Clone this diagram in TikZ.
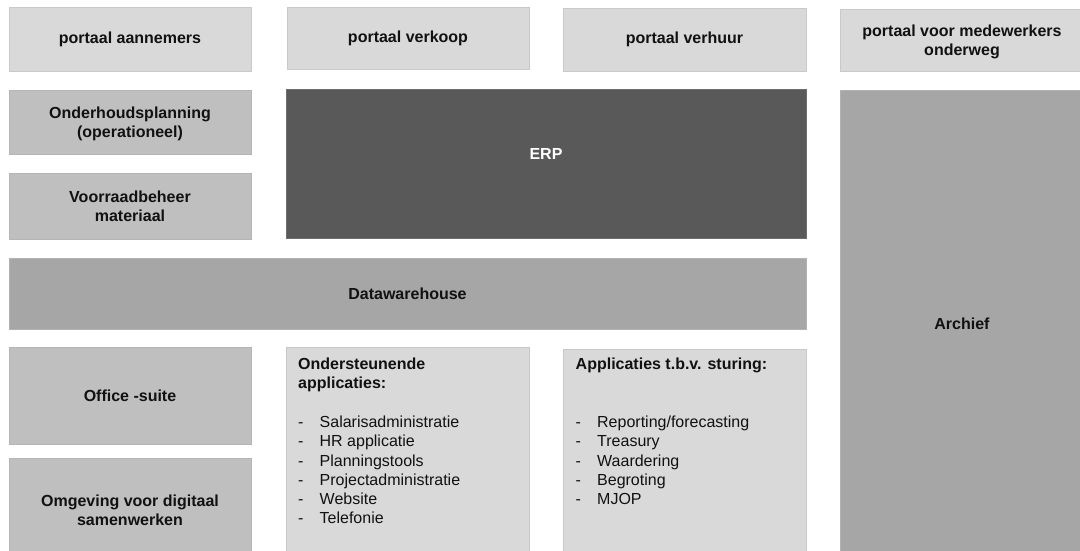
\documentclass[tikz,border=0pt]{standalone}
\usepackage{fontspec}
\setmainfont{Liberation Sans}
\definecolor{lightfill}{HTML}{D9D9D9}
\definecolor{lightline}{HTML}{C9C9C9}
\definecolor{midfill}{HTML}{BFBFBF}
\definecolor{midline}{HTML}{B5B5B5}
\definecolor{darkfill}{HTML}{595959}
\definecolor{darkline}{HTML}{6E6E6E}
\definecolor{greyfill}{HTML}{A6A6A6}
\definecolor{greyline}{HTML}{B2B2B2}
\definecolor{labeltext}{HTML}{111111}
\tikzset{
  block/.style={draw, line width=0.8pt, inner sep=0pt, outer sep=0pt, align=center,
    text=labeltext, font=\fontsize{16}{19}\selectfont\bfseries},
  portal/.style={block, fill=lightfill, draw=lightline},
  module/.style={block, fill=midfill, draw=midline},
  core/.style={block, fill=darkfill, draw=darkline, text=white},
  shared/.style={block, fill=greyfill, draw=greyline},
  listbox/.style={block, fill=lightfill, draw=lightline},
  twoline/.style={text depth=4pt},
  listhead/.style={anchor=base west, inner sep=0pt, text=labeltext,
    font=\fontsize{16}{19.5}\selectfont\bfseries},
  listitem/.style={anchor=base west, inner sep=0pt, text=labeltext,
    font=\fontsize{16}{19.5}\selectfont},
}
\newcommand{\dashitem}[1]{\makebox[21.5pt][l]{-}#1}
\begin{document}
\begin{tikzpicture}[x=1pt, y=-1pt]
  \useasboundingbox (0,0) rectangle (1080,551);
  \fill[white] (0,0) rectangle (1080,551);
  \clip (0,0) rectangle (1080,551);

  % portals
  \node[portal, minimum width=242pt, minimum height=64pt] (pa) at (130,39) {portaal aannemers};
  \node[portal, minimum width=242pt, minimum height=62pt] (pvk) at (408,38) {portaal verkoop};
  \node[portal, minimum width=243pt, minimum height=63pt] (pvh) at (684.5,39.5) {portaal verhuur};
  \node[portal, minimum width=244pt, minimum height=62pt] (pm) at (962,40) {};
  \node[block, draw=none, align=center] (pml) at (962,42) {portaal voor medewerkers\\onderweg};

  % operational modules
  \node[module, minimum width=242pt, minimum height=64pt] (ohp) at (130,122) {};
  \node[block, draw=none] (ohpl) at (130,123.5) {Onderhoudsplanning\\(operationeel)};
  \node[module, minimum width=242pt, minimum height=66pt] (vrb) at (130,206) {};
  \node[block, draw=none] (vrbl) at (130,206.5) {Voorraadbeheer\\materiaal};
  \node[core, minimum width=520pt, minimum height=149pt] (erp) at (546,163.5) {};
  \node[block, draw=none, text=white] (erpl) at (546,154) {ERP};

  % archive and data warehouse
  \node[shared, minimum width=244pt, minimum height=467pt] (arc) at (962,323.5) {Archief};
  \node[shared, minimum width=797pt, minimum height=71pt] (dw) at (407.5,293.5) {Datawarehouse};

  % office tools
  \node[module, minimum width=242pt, minimum height=97pt] (off) at (130,395.5) {Office -suite};
  \node[module, minimum width=242pt, minimum height=100pt] (omg) at (130,508) {};
  \node[block, draw=none] (omgl) at (130,510) {Omgeving voor digitaal\\samenwerken};

  % supporting applications
  \node[listbox, minimum width=243pt, minimum height=213pt] (ond) at (407.5,453.5) {};
  \node[listhead] (ondh1) at (298,369) {Ondersteunende};
  \node[listhead] (ondh2) at (298,388.3) {applicaties:};
  \foreach \t [count=\i from 0] in {Salarisadministratie, HR applicatie, Planningstools,
      Projectadministratie, Website, Telefonie} {
    \node[listitem] (ond\i) at (298,{427.5+19.25*\i}) {\dashitem{\t}};
  }

  % steering applications
  \node[listbox, minimum width=243pt, minimum height=211pt] (aps) at (684.5,454.5) {};
  \node[listhead] (apsh) at (575.5,369.5) {Applicaties t.b.v. sturing:};
  \foreach \t [count=\i from 0] in {Reporting/forecasting, Treasury, Waardering,
      Begroting, MJOP} {
    \node[listitem] (aps\i) at (575.5,{427.5+19.25*\i}) {\dashitem{\t}};
  }
\end{tikzpicture}
\end{document}
